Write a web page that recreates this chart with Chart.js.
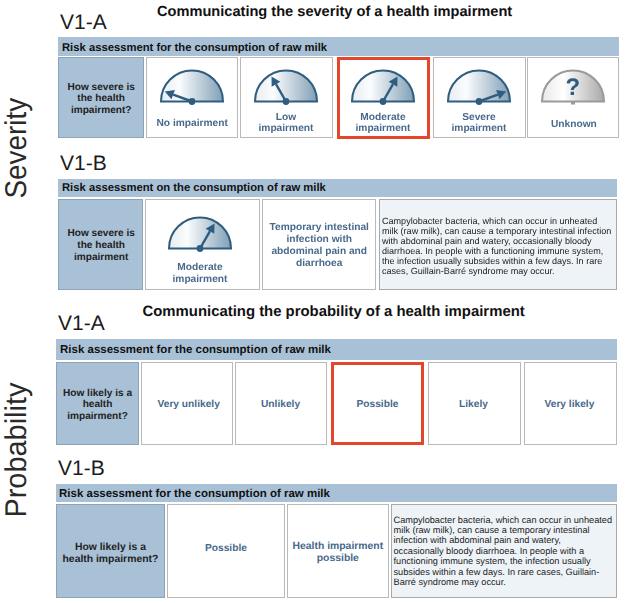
<!DOCTYPE html>
<html>
<head>
<meta charset="utf-8">
<script src="https://cdn.jsdelivr.net/npm/chart.js@4/dist/chart.umd.min.js"></script>
<style>
  html, body { margin: 0; padding: 0; background: #fff; }
  #page { position: relative; width: 625px; height: 603px; overflow: hidden; font-family: "Liberation Sans", Arial, sans-serif; text-rendering: geometricPrecision; }
  .box { position: absolute; box-sizing: border-box; }
  .bar { background: #a9c1d6; }
  .ask { background: #a9c1d6; border: 1.5px solid #8ea3b6; }
  .cell { background: #fff; border: 1.5px solid #b9b9b9; }
  .pick { background: #fff; border: 3px solid #e4462c; }
  .note { background: #eef3f8; border: 1.5px solid #a9a9a9; }
  .txt { position: absolute; white-space: nowrap; text-align: center; }
  .title { font-weight: bold; font-size: 14.6px; color: #111; }
  .version { font-size: 21px; color: #1c1c1c; }
  .head { font-weight: bold; color: #111; font-size: 11.25px; text-align: left; }
  .q { font-weight: bold; color: #222; font-size: 10.1px; line-height: 11.6px; }
  .lab { font-weight: bold; color: #47698b; font-size: 10.2px; line-height: 11.6px; }
  .body { font-size: 9.05px; color: #222; text-align: left; }
  .side { font-size: 30px; line-height: 30px; color: #2a2a2a; writing-mode: vertical-rl; }
  canvas { position: absolute; }
</style>
</head>
<body>
<div id="page"></div>
<script>
// Datos
const mainTitles = ['Communicating the severity of a health impairment', 'Communicating the probability of a health impairment'];
const sideLabels = ['Severity', 'Probability'];
const versions = ['V1-A', 'V1-B'];
const severityLevels = [['No impairment'], ['Low', 'impairment'], ['Moderate', 'impairment'], ['Severe', 'impairment'], ['Unknown']];
const probabilityLevels = ['Very unlikely', 'Unlikely', 'Possible', 'Likely', 'Very likely'];
// Posicion de la aguja en el dial: 0 = izquierda, 180 = derecha
const needleValues = [20, 60, 120, 160];
const severityNote = ['Campylobacter bacteria, which can occur in unheated', 'milk (raw milk), can cause a temporary intestinal infection', 'with abdominal pain and watery, occasionally bloody', 'diarrhoea. In people with a functioning immune system,', 'the infection usually subsides within a few days. In rare', 'cases, Guillain-Barré syndrome may occur.'];
const probabilityNote = ['Campylobacter bacteria, which can occur in unheated', 'milk (raw milk), can cause a temporary intestinal', 'infection with abdominal pain and watery,', 'occasionally bloody diarrhoea. In people with a', 'functioning immune system, the infection usually', 'subsides within a few days. In rare cases, Guillain-', 'Barré syndrome may occur.'];
const infectionLabel = ['Temporary intestinal', 'infection with', 'abdominal pain and', 'diarrhoea'];

const page = document.getElementById('page');

function box(cls, x, y, w, h) {
  const el = document.createElement('div');
  el.className = 'box ' + cls;
  el.style.cssText = `left:${x}px;top:${y}px;width:${w}px;height:${h}px`;
  page.appendChild(el);
}

// Texto centrado en (cx, cy)
function text(cls, cx, cy, lines, extra) {
  const el = document.createElement('div');
  el.className = 'txt ' + cls;
  el.innerHTML = lines.join('<br>');
  if (extra) el.style.cssText = extra;
  page.appendChild(el);
  el.style.left = (cx - el.offsetWidth / 2) + 'px';
  el.style.top = (cy - el.offsetHeight / 2) + 'px';
  return el;
}

// Texto alineado a la izquierda
function leftText(cls, x, cy, lines, extra) {
  const el = text(cls, 0, cy, lines, extra);
  el.style.left = x + 'px';
  return el;
}

// Dibuja la aguja usando el centro y radio del arco de Chart.js
const needlePlugin = {
  id: 'needle',
  afterDatasetsDraw(chart, args, opts) {
    const arc = chart.getDatasetMeta(0).data[0];
    const ctx = chart.ctx;
    ctx.save();
    ctx.fillStyle = opts.color;
    ctx.strokeStyle = opts.color;
    if (opts.value === null) {
      ctx.fillRect(arc.x - 2, arc.y, 4, 3);
    } else {
      const a = Math.PI - opts.value / 180 * Math.PI;
      const len = arc.outerRadius - 2;
      const ux = Math.cos(a), uy = -Math.sin(a);
      const tipX = arc.x + ux * len, tipY = arc.y + uy * len;
      const baseX = tipX - ux * 9, baseY = tipY - uy * 9;
      ctx.lineWidth = 2.4;
      ctx.beginPath();
      ctx.moveTo(arc.x, arc.y);
      ctx.lineTo(baseX, baseY);
      ctx.stroke();
      ctx.beginPath();
      ctx.moveTo(tipX, tipY);
      ctx.lineTo(baseX - uy * 5, baseY + ux * 5);
      ctx.lineTo(baseX + uy * 5, baseY - ux * 5);
      ctx.closePath();
      ctx.fill();
      ctx.beginPath();
      ctx.arc(arc.x, arc.y, 3.4, 0, Math.PI * 2);
      ctx.fill();
    }
    ctx.restore();
  }
};

// Gauge: medio pastel con degradado; (cx, cy) es el centro del dial
function gauge(cx, cy, value, line, stops) {
  const canvas = document.createElement('canvas');
  canvas.width = 80;
  canvas.height = 80;
  canvas.style.left = (cx - 40) + 'px';
  canvas.style.top = (cy - 55.5) + 'px';
  page.appendChild(canvas);
  new Chart(canvas, {
    type: 'pie',
    data: {
      labels: ['dial'],
      datasets: [{
        data: [180],
        borderColor: line,
        borderWidth: 2,
        borderJoinStyle: 'miter',
        backgroundColor(context) {
          const c = context.chart;
          const g = c.ctx.createLinearGradient(8, 0, 72, 0);
          stops.forEach(s => g.addColorStop(s[0], s[1]));
          return g;
        }
      }]
    },
    options: {
      responsive: false,
      animation: false,
      events: [],
      rotation: -90,
      circumference: 180,
      radius: 31,
      plugins: { legend: { display: false }, tooltip: { enabled: false }, needle: { value, color: line } }
    },
    plugins: [needlePlugin]
  });
}

const blueDial = [[0, '#e6ecf0'], [0.3, '#fbfcfd'], [1, '#7d9db4']];
const greyDial = [[0, '#e8e8e8'], [0.35, '#ffffff'], [1, '#a6a6a6']];
const dialLine = '#2f5d80';

// Titulos y etiquetas laterales
text('title', 334.5, 12, [mainTitles[0]]);
text('title', 333.5, 312, [mainTitles[1]], 'font-size:14.9px');
text('side', 17.3, 147.5, [sideLabels[0]], 'transform:rotate(180deg) scaleY(0.93)');
text('side', 17.3, 449.5, [sideLabels[1]], 'transform:rotate(180deg) scaleY(0.964)');
leftText('version', 60, 22.5, [versions[0]]);
leftText('version', 60, 163.5, [versions[1]]);
leftText('version', 58, 324, [versions[0]]);
leftText('version', 58, 468.5, [versions[1]]);

// Severidad V1-A
box('bar', 58, 37, 561, 19);
leftText('head', 62, 48, ['Risk assessment for the consumption of raw milk']);
box('ask', 58, 57, 86, 81);
text('q', 101, 99.3, ['How severe is', 'the health', 'impairment?']);
box('cell', 146, 57, 92, 81);
box('cell', 240, 57, 93, 81);
box('pick', 337, 57, 93, 82);
box('cell', 433, 57, 93, 81);
box('cell', 527, 57, 92, 81);
gauge(192, 101, needleValues[0], dialLine, blueDial);
gauge(286, 101, needleValues[1], dialLine, blueDial);
gauge(383, 101, needleValues[2], dialLine, blueDial);
gauge(479, 101, needleValues[3], dialLine, blueDial);
gauge(573, 101, null, '#9a9a9a', greyDial);
text('lab', 192, 123.5, severityLevels[0]);
text('lab', 286, 123, severityLevels[1]);
text('lab', 383, 123, severityLevels[2]);
text('lab', 479, 123, severityLevels[3]);
text('lab', 574, 124.5, severityLevels[4]);
text('', 573, 88, ['?'], 'font-weight:bold;font-size:24px;color:#2f5d80');

// Severidad V1-B
box('bar', 58, 179, 559, 17.5);
leftText('head', 62, 188, ['Risk assessment on the consumption of raw milk']);
box('ask', 58, 199, 85, 91);
text('q', 101, 246.2, ['How severe is', 'the health', 'impairment'], 'line-height:12px');
box('cell', 145, 199, 115, 91);
box('cell', 262, 199, 114, 91);
box('note', 379, 199, 238, 91);
gauge(200, 248, needleValues[2], dialLine, blueDial);
text('lab', 200, 273.5, severityLevels[2]);
text('lab', 319, 246, infectionLabel, 'line-height:12px');
leftText('body', 382, 245.5, severityNote, 'line-height:10.05px');

// Probabilidad V1-A
box('bar', 56, 339, 561, 21);
leftText('head', 60, 350, ['Risk assessment for the consumption of raw milk'], 'font-size:11.5px');
box('ask', 56, 362, 83, 83);
text('q', 97.5, 405, ['How likely is a', 'health', 'impairment?']);
box('cell', 141, 362, 92, 83);
box('cell', 235, 362, 92, 83);
box('pick', 331, 362, 93, 83);
box('cell', 428, 362, 93, 83);
box('cell', 524, 362, 93, 83);
text('lab', 188.5, 404.5, [probabilityLevels[0]]);
text('lab', 280.5, 404.5, [probabilityLevels[1]]);
text('lab', 377.5, 404.5, [probabilityLevels[2]]);
text('lab', 473.5, 404.5, [probabilityLevels[3]]);
text('lab', 569.5, 404.5, [probabilityLevels[4]]);

// Probabilidad V1-B
box('bar', 56, 484, 561, 18);
leftText('head', 59, 493.5, ['Risk assessment for the consumption of raw milk'], 'font-size:11.5px');
box('ask', 56, 504, 109, 94);
text('q', 110.5, 554, ['How likely is a', 'health impairment?'], 'line-height:12px;font-size:10.4px');
box('cell', 167, 504, 118, 94);
box('cell', 287, 504, 102, 94);
box('note', 391, 504, 226, 94);
text('lab', 226, 548.5, [probabilityLevels[2]]);
text('lab', 338, 552.5, ['Health impairment', 'possible'], 'line-height:12px;font-size:10.4px');
leftText('body', 393.5, 551, probabilityNote, 'line-height:10.4px;font-size:9.2px');
</script>
</body>
</html>
